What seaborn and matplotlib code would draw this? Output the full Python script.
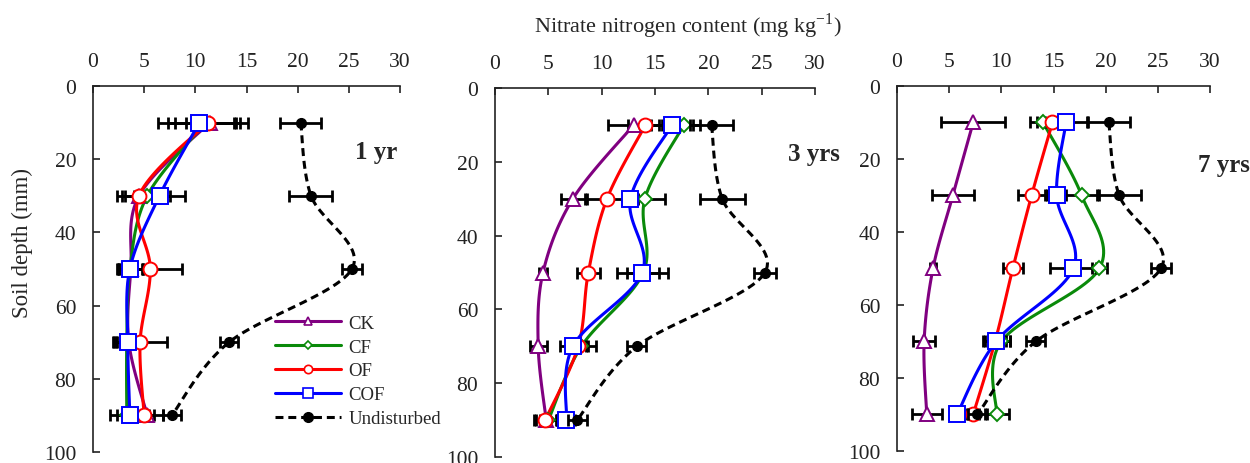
import numpy as np
import seaborn as sns
import matplotlib.pyplot as plt
from matplotlib.lines import Line2D

# depths (mm) at which nitrate was sampled
depth = [10, 30, 50, 70, 90]
treatments = ['CK', 'CF', 'OF', 'COF']
panel_labels = ['1 yr', '3 yrs', '7 yrs']
x_ticks = [0, 5, 10, 15, 20, 25, 30]
y_ticks = [0, 20, 40, 60, 80, 100]

# undisturbed soil (same reference profile in every panel)
undisturbed = [20.3, 21.3, 25.3, 13.3, 7.7]
undisturbed_err = [2.0, 2.1, 1.0, 0.9, 0.9]

# 1 yr
ck_1 = [11.4, 4.5, 3.7, 3.5, 5.3]
cf_1 = [11.0, 5.3, 3.6, 3.3, 3.3]
of_1 = [11.2, 4.5, 5.6, 4.6, 5.0]
cof_1 = [10.4, 6.5, 3.6, 3.4, 3.6]
ck_1_err = [2.35, 1.7, 1.2, 1.2, 1.5]
cf_1_err = [3.0, 2.2, 1.2, 1.2, 1.0]
of_1_err = [3.9, 2.2, 3.1, 2.6, 1.0]
cof_1_err = [4.0, 2.5, 1.3, 1.2, 1.9]

# 3 yrs
ck_3 = [13.0, 7.3, 4.5, 4.05, 4.8]
cf_3 = [17.7, 14.05, 13.9, 8.1, 5.0]
of_3 = [14.1, 10.5, 8.75, 7.8, 4.7]
cof_3 = [16.6, 12.7, 13.8, 7.3, 6.7]
ck_3_err = [2.4, 1.1, 0.4, 0.8, 1.0]
cf_3_err = [1.5, 1.85, 1.5, 1.4, 0.8]
of_3_err = [1.6, 1.9, 1.05, 0.9, 1.0]
cof_3_err = [2.0, 0.7, 2.4, 1.2, 0.8]

# 7 yrs
ck_7 = [7.3, 5.35, 3.45, 2.6, 2.85]
cf_7 = [14.0, 17.7, 19.4, 10.0, 9.55]
of_7 = [14.9, 12.9, 11.1, 9.4, 7.3]
cof_7 = [16.2, 15.3, 16.9, 9.5, 5.75]
ck_7_err = [3.05, 2.0, 0.3, 1.05, 1.45]
cf_7_err = [1.25, 1.7, 0.75, 0.8, 1.15]
of_7_err = [1.5, 1.3, 0.95, 1.0, 0.6]
cof_7_err = [2.0, 0.9, 2.2, 1.3, 0.5]

panels = [
    ([ck_1, cf_1, of_1, cof_1], [ck_1_err, cf_1_err, of_1_err, cof_1_err]),
    ([ck_3, cf_3, of_3, cof_3], [ck_3_err, cf_3_err, of_3_err, cof_3_err]),
    ([ck_7, cf_7, of_7, cof_7], [ck_7_err, cf_7_err, of_7_err, cof_7_err]),
]

colors = {'CK': '#800080', 'CF': '#0a8a0a', 'OF': '#ff0000', 'COF': '#0000ff'}
markers = {'CK': '^', 'CF': 'D', 'OF': 'o', 'COF': 's'}
msizes = {'CK': 10, 'CF': 7.5, 'OF': 10, 'COF': 12}


def smooth(x, y, n=24):
    # Excel-style smoothed line (Catmull-Rom through the measured points)
    pts = np.column_stack([x, y]).astype(float)
    p = np.vstack([pts[0], pts, pts[-1]])
    t = np.linspace(0, 1, n, endpoint=False)[:, None]
    segs = []
    for i in range(1, len(p) - 2):
        p0, p1, p2, p3 = p[i - 1], p[i], p[i + 1], p[i + 2]
        segs.append(0.5 * (2 * p1 + (-p0 + p2) * t
                           + (2 * p0 - 5 * p1 + 4 * p2 - p3) * t ** 2
                           + (-p0 + 3 * p1 - 3 * p2 + p3) * t ** 3))
    segs.append(pts[-1][None])
    s = np.vstack(segs)
    return s[:, 0], s[:, 1]


sns.set_style('ticks')
plt.rcParams['font.family'] = ['Liberation Serif', 'DejaVu Serif']
plt.rcParams['mathtext.fontset'] = 'custom'
plt.rcParams['mathtext.rm'] = 'Liberation Serif'

fig = plt.figure(figsize=(12.5, 4.64), dpi=100)
boxes = [[0.0744, 0.0237, 0.2456, 0.789],
         [0.396, 0.0129, 0.256, 0.795],
         [0.7176, 0.0259, 0.2504, 0.7866]]
text_pos = [(0.284, 0.672), (0.630, 0.666), (0.958, 0.644)]

for k, (series, errs) in enumerate(panels):
    ax = fig.add_axes(boxes[k])
    for name, vals, err in zip(treatments, series, errs):
        sx, sy = smooth(vals, depth)
        sns.lineplot(x=sx, y=sy, sort=False, estimator=None, ax=ax,
                     color=colors[name], lw=2.2, zorder=2)
        ax.errorbar(vals, depth, xerr=err, fmt='none', ecolor='black',
                    elinewidth=2, capsize=4, capthick=2, zorder=3)
        ax.plot(vals, depth, ls='none', marker=markers[name], ms=msizes[name],
                mfc='white', mec=colors[name], mew=1.4, zorder=4)
    sx, sy = smooth(undisturbed, depth)
    sns.lineplot(x=sx, y=sy, sort=False, estimator=None, ax=ax,
                 color='black', lw=2.2, zorder=5)
    ax.lines[-1].set_dashes((2.6, 1.6))
    ax.errorbar(undisturbed, depth, xerr=undisturbed_err, fmt='o', color='black',
                ms=7, elinewidth=2, capsize=4, capthick=2, zorder=6)

    ax.set_xlim(0, 30)
    ax.set_ylim(100, 0)
    ax.set_xticks(x_ticks)
    ax.set_yticks(y_ticks)
    ax.xaxis.tick_top()
    ax.tick_params(direction='in', length=5, width=1.2, labelsize=15.5,
                   colors='#222222')
    ax.tick_params(axis='x', pad=11)
    ax.tick_params(axis='y', pad=12)
    for side in ['right', 'bottom']:
        ax.spines[side].set_visible(False)
    for side in ['left', 'top']:
        ax.spines[side].set_linewidth(1.2)
        ax.spines[side].set_color('#222222')
    ax.set_xlabel('')
    ax.set_ylabel('')
    fig.text(text_pos[k][0], text_pos[k][1], panel_labels[k], fontsize=18,
             fontweight='bold', ha='left', va='center')

fig.text(0.5504, 0.944, 'Nitrate nitrogen content (mg kg$^{\\mathregular{-1}}$)',
         fontsize=16, ha='center', va='center')
fig.text(0.018, 0.476, 'Soil depth (mm)', fontsize=16.5, rotation=90,
         ha='center', va='center')

handles = [Line2D([], [], color=colors[n], lw=2.2, marker=markers[n],
                  ms=msizes[n] * 0.6, mfc='white', mec=colors[n], mew=1.2)
           for n in treatments]
handles.append(Line2D([], [], color='black', lw=2.2, ls=(0, (2.6, 1.6)),
                      marker='o', ms=7))
fig.legend(handles, treatments + ['Undisturbed'], loc='upper left',
           bbox_to_anchor=(0.22, 0.32), frameon=False, fontsize=13.5,
           handlelength=3.5, handletextpad=0.4, labelspacing=0.36,
           borderpad=0, borderaxespad=0)

fig.savefig('out.png', dpi=100)
